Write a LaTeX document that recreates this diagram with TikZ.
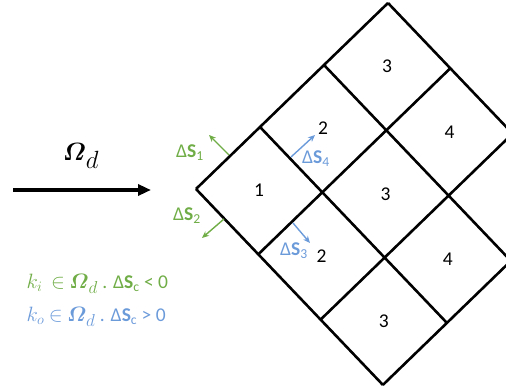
\documentclass[tikz,border=0pt]{standalone}
\usepackage{amsmath}
\usepackage{fontspec}
\setmainfont{Carlito}
\usetikzlibrary{arrows.meta,calc}
\definecolor{fluxgreen}{RGB}{112,173,71}
\definecolor{fluxblue}{RGB}{108,155,218}
\newcommand{\dS}[1]{Δ\textbf{S}\textsubscript{#1}}
\newcommand{\Omd}[1]{$\boldsymbol{\varOmega}_{\mbox{\fontsize{#1}{#1}\selectfont$d$}}$}
\begin{document}
\begin{tikzpicture}[x=1pt,y=-1pt, every node/.style={font=\fontsize{19.5}{22}\selectfont},
  gridline/.style={line width=2.6pt,line cap=square},
  flowarrow/.style={line width=3.2pt,-{Triangle[length=13pt,width=11pt]}},
  flux/.style={line width=1.4pt,-{Stealth[length=7pt,width=6pt]}}]
  \useasboundingbox (0,0) rectangle (506,390);
  \clip (0,0) rectangle (506,390);
  % rotated mesh
  \coordinate (L) at (196,189);
  \coordinate (u) at (64,-62);
  \coordinate (v) at (62.3,65.3);
  \foreach \i in {0,...,3} {
    \draw[gridline] ($(L)+\i*(u)$) -- ($(L)+\i*(u)+3*(v)$);
    \draw[gridline] ($(L)+\i*(v)$) -- ($(L)+\i*(v)+3*(u)$);
  }
  \foreach \i/\j/\n in {0/0/1, 1/0/2, 0/1/2, 2/0/3, 1/1/3, 0/2/3, 2/1/4, 1/2/4}
    \node (c\i\j) at ($(L)+\i*(u)+\j*(v)+0.5*(u)+0.5*(v)$) {\n};
  % incoming direction
  \coordinate (flowA) at (13,190);
  \coordinate (flowB) at (151,190);
  \draw[flowarrow] (flowA) -- (flowB);
  \node[font=\fontsize{36}{40}\selectfont] (omega) at (81,156) {\Omd{32}};
  % face normals of cell 1
  \coordinate (s1a) at (229,155); \coordinate (s1b) at (209,135);
  \coordinate (s2a) at (224,219); \coordinate (s2b) at (202,238);
  \coordinate (s3a) at (293,223); \coordinate (s3b) at (310,243);
  \coordinate (s4a) at (291,157); \coordinate (s4b) at (315,135);
  \draw[flux,fluxgreen] (s1a) -- (s1b);
  \draw[flux,fluxgreen] (s2a) -- (s2b);
  \draw[flux,fluxblue] (s3a) -- (s3b);
  \draw[flux,fluxblue] (s4a) -- (s4b);
  \node[fluxgreen] (ds1) at (190,153) {\dS{1}};
  \node[fluxgreen] (ds2) at (187,216) {\dS{2}};
  \node[fluxblue] (ds3) at (294,251) {\dS{3}};
  \node[fluxblue] (ds4) at (316,159) {\dS{4}};
  % in/out criteria
  \node[fluxgreen,anchor=west] (kin) at (23,284) {$k_i$\ \ $\in$ \Omd{17} . \dS{c} < 0};
  \node[fluxblue,anchor=west] (kout) at (23,317) {$k_o$ $\in$ \Omd{17} . \dS{c} > 0};
\end{tikzpicture}
\end{document}
